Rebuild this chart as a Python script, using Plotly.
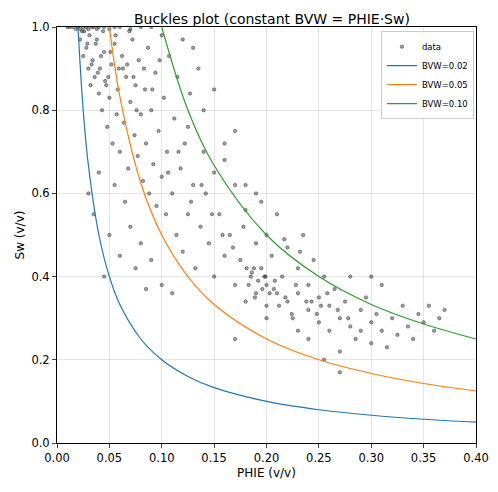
import plotly.graph_objects as go

# scatter points (PHIE, Sw)
phie = [0.01, 0.012, 0.015, 0.018, 0.02, 0.022, 0.025, 0.028, 0.03, 0.033, 0.035, 0.038, 0.04, 0.045, 0.05, 0.055, 0.06, 0.07, 0.08, 0.09,
        0.022, 0.025, 0.028, 0.03, 0.032, 0.034, 0.036, 0.038, 0.04, 0.041, 0.043, 0.045, 0.046, 0.048, 0.05, 0.052, 0.053, 0.055, 0.057, 0.058,
        0.06, 0.062, 0.064, 0.066, 0.068, 0.07, 0.072, 0.074, 0.075, 0.077, 0.078, 0.08, 0.082, 0.084, 0.085, 0.087, 0.088, 0.09, 0.092, 0.094,
        0.095, 0.097, 0.1, 0.1, 0.102, 0.104, 0.105, 0.107, 0.11, 0.112, 0.114, 0.115, 0.118, 0.12, 0.12, 0.122, 0.125, 0.127, 0.13, 0.132,
        0.135, 0.137, 0.14, 0.142,
        0.03, 0.035, 0.04, 0.045, 0.05, 0.055, 0.06, 0.065, 0.07, 0.075, 0.08, 0.09, 0.1, 0.11, 0.085,
        0.145, 0.15, 0.15, 0.155, 0.16, 0.16, 0.165, 0.17, 0.17, 0.175, 0.18, 0.18, 0.185, 0.19, 0.19, 0.195, 0.195, 0.2, 0.2, 0.2,
        0.205, 0.21, 0.21, 0.215, 0.22, 0.22, 0.225, 0.23, 0.23, 0.235, 0.24, 0.24, 0.245, 0.25, 0.25, 0.255, 0.26, 0.26, 0.265, 0.27,
        0.27, 0.275, 0.28, 0.28, 0.285, 0.29, 0.29, 0.295, 0.3, 0.3, 0.305, 0.31, 0.31, 0.315, 0.32, 0.325, 0.33, 0.335, 0.34, 0.345,
        0.35, 0.355, 0.36, 0.365, 0.37, 0.255, 0.27, 0.24, 0.23, 0.2, 0.17, 0.3, 0.19, 0.16, 0.14, 0.13, 0.125, 0.15, 0.17, 0.18,
        0.026, 0.031, 0.037, 0.044, 0.049, 0.056, 0.063, 0.069, 0.076, 0.083, 0.091, 0.098, 0.106, 0.116, 0.128, 0.138, 0.148, 0.158, 0.168, 0.178,
        0.188, 0.198, 0.208, 0.218, 0.228, 0.238, 0.248, 0.258, 0.268, 0.278,
        0.192, 0.196, 0.186, 0.203, 0.183, 0.212, 0.199, 0.189, 0.207, 0.181, 0.224, 0.217, 0.232, 0.243, 0.252,
        0.024, 0.029, 0.033, 0.039, 0.042, 0.047, 0.051, 0.059, 0.067, 0.073]
sw = [1.0, 1.0, 1.0, 0.995, 1.0, 0.995, 1.0, 1.0, 0.995, 1.0, 1.0, 0.995, 1.0, 1.0, 0.995, 1.0, 1.0, 0.995, 1.0, 1.0,
      0.97, 0.93, 0.95, 0.9, 0.86, 0.92, 0.88, 0.97, 0.84, 0.9, 0.8, 0.94, 0.87, 0.76, 0.83, 0.91, 0.72, 0.96, 0.79, 0.85,
      0.7, 0.93, 0.77, 0.88, 0.66, 0.82, 0.97, 0.74, 0.86, 0.69, 0.92, 0.79, 0.63, 0.85, 0.72, 0.95, 0.6, 0.8, 0.67, 0.89,
      0.57, 0.75, 0.64, 0.98, 0.83, 0.55, 0.7, 0.93, 0.6, 0.78, 0.5, 0.88, 0.66, 0.97, 0.46, 0.72, 0.55, 0.84, 0.62, 0.42,
      0.9, 0.52, 0.7, 0.6,
      0.6, 0.55, 0.65, 0.4, 0.5, 0.62, 0.45, 0.58, 0.52, 0.42, 0.48, 0.44, 0.38, 0.36, 0.37,
      0.48, 0.65, 0.4, 0.55, 0.72, 0.45, 0.5, 0.62, 0.38, 0.44, 0.56, 0.34, 0.4, 0.48, 0.36, 0.58, 0.42, 0.38, 0.5, 0.33,
      0.45, 0.36, 0.55, 0.4, 0.34, 0.47, 0.3, 0.42, 0.36, 0.5, 0.32, 0.38, 0.44, 0.29, 0.35, 0.4, 0.27, 0.33, 0.37, 0.3,
      0.22, 0.34, 0.28, 0.4, 0.25, 0.32, 0.27, 0.35, 0.29, 0.24, 0.31, 0.27, 0.38, 0.23, 0.3, 0.26, 0.33, 0.28, 0.25, 0.31,
      0.29, 0.33, 0.27, 0.3, 0.32, 0.2, 0.17, 0.25, 0.27, 0.3, 0.25, 0.4, 0.6, 0.68, 0.8, 0.95, 0.76, 0.85, 0.75, 0.62,
      0.99, 0.98, 0.96, 0.99, 0.88, 0.98, 0.9, 0.99, 0.8, 0.9, 0.85, 0.92, 0.65, 0.7, 0.58, 0.62, 0.55, 0.5, 0.47, 0.52,
      0.42, 0.4, 0.39, 0.35, 0.38, 0.34, 0.31, 0.36, 0.32, 0.3,
      0.39, 0.37, 0.41, 0.36, 0.38, 0.33, 0.4, 0.35, 0.37, 0.42, 0.31, 0.49, 0.46, 0.34, 0.33,
      0.99, 0.96, 0.91, 0.89, 0.93, 0.86, 0.94, 0.9, 0.91, 0.88]

# reference curves Sw = BVW / PHIE
curve_phie = [0.01, 0.0125, 0.015, 0.02, 0.025, 0.03, 0.04, 0.05, 0.06, 0.08, 0.1, 0.125, 0.15, 0.2, 0.25, 0.3, 0.35, 0.4]
bvw_002 = [None, None, None, 1.0, 0.8, 0.667, 0.5, 0.4, 0.333, 0.25, 0.2, 0.16, 0.133, 0.1, 0.08, 0.0667, 0.0571, 0.05]
bvw_005 = [None, None, None, None, None, None, None, 1.0, 0.833, 0.625, 0.5, 0.4, 0.333, 0.25, 0.2, 0.167, 0.143, 0.125]
bvw_010 = [None, None, None, None, None, None, None, None, None, None, 1.0, 0.8, 0.667, 0.5, 0.4, 0.333, 0.286, 0.25]

fig = go.Figure()
fig.add_trace(go.Scatter(x=phie, y=sw, mode="markers", name="data",
                         marker=dict(size=3.5, color="rgba(40,40,40,0.45)",
                                     line=dict(width=0.6, color="rgba(0,0,0,0.55)"))))
for name, vals, col in [("BVW=0.02", bvw_002, "#1f77b4"),
                        ("BVW=0.05", bvw_005, "#ff7f0e"),
                        ("BVW=0.10", bvw_010, "#2ca02c")]:
    fig.add_trace(go.Scatter(x=curve_phie, y=vals, mode="lines", name=name,
                             line=dict(color=col, width=1.2, shape="spline")))

axis = dict(showline=True, linecolor="black", mirror=True, ticks="outside",
            ticklen=4, showgrid=True, gridcolor="rgba(0,0,0,0.1)", zeroline=False,
            tickfont=dict(size=11.5))
fig.update_layout(
    width=498, height=492, paper_bgcolor="white", plot_bgcolor="white",
    font=dict(family="DejaVu Sans", color="black", size=12),
    title=dict(text="Buckles plot (constant BVW = PHIE·Sw)", x=0.53, xanchor="center",
               yref="container", y=1.0, yanchor="top", pad=dict(t=6), font=dict(size=14)),
    margin=dict(l=49, r=30, t=19, b=57, autoexpand=False),
    xaxis=dict(axis, range=[0, 0.4], dtick=0.05, tickformat=".2f",
               title=dict(text="PHIE (v/v)", standoff=4, font=dict(size=12))),
    yaxis=dict(axis, range=[0, 1], dtick=0.2, tickformat=".1f",
               title=dict(text="Sw (v/v)", standoff=4, font=dict(size=12))),
    legend=dict(x=0.995, y=0.99, xanchor="right", yanchor="top", bgcolor="rgba(255,255,255,0.8)",
                bordercolor="#ccc", borderwidth=1, font=dict(size=8.5), itemwidth=30, tracegroupgap=0),
    showlegend=True,
)
fig.write_html("out.html")
